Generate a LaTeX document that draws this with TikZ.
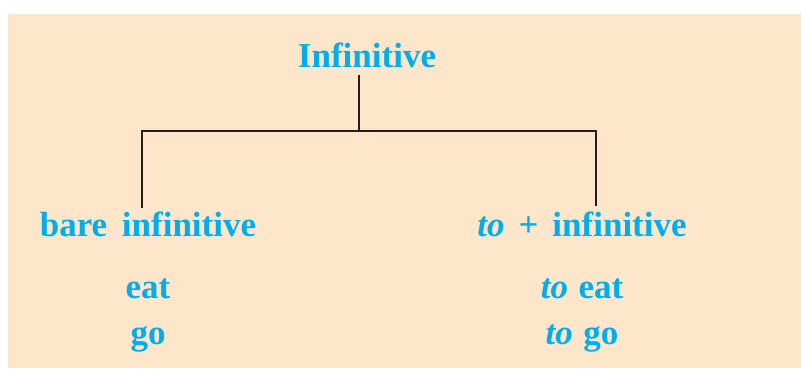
\documentclass[tikz,border=0pt]{standalone}
\usepackage{fontspec}
\setmainfont{Liberation Serif}
\definecolor{bgpeach}{HTML}{FEE6CB}
\definecolor{txtblue}{HTML}{00AEEF}
\definecolor{linedark}{HTML}{231F20}
\tikzset{
  lbl/.style={anchor=base, inner sep=0pt, text=txtblue, font=\fontsize{35}{40}\selectfont\bfseries},
  tree/.style={draw=linedark, line width=2.7pt, line join=miter}
}
\begin{document}
\begin{tikzpicture}[x=1pt,y=-1pt]
\useasboundingbox (0,0) rectangle (801,369);
\fill[bgpeach] (8,14) rectangle (801,368);
\node[lbl] (inf) at (367,68) {Infinitive};
\node[lbl] (bare) at (148,236) {bare\hspace{0.42em}infinitive};
\node[lbl] (toinf) at (582,236) {\itshape to\hspace{0.4em}\upshape+\hspace{0.4em}infinitive};
\node[lbl] (eat) at (148,298) {eat};
\node[lbl] (go) at (148,344) {go};
\node[lbl] (toeat) at (582,298) {\itshape to\upshape\hspace{0.3em}eat};
\node[lbl] (togo) at (582,344) {\itshape to\upshape\hspace{0.3em}go};
\coordinate (ct) at (359,75);
\coordinate (cj) at (359,131);
\coordinate (cl) at (142,131);
\coordinate (cr) at (596,131);
\coordinate (cle) at (142,208);
\coordinate (cre) at (596,206);
\draw[tree] (ct) -- (cj);
\draw[tree] (cle) -- (cl) -- (cr) -- (cre);
\end{tikzpicture}
\end{document}
